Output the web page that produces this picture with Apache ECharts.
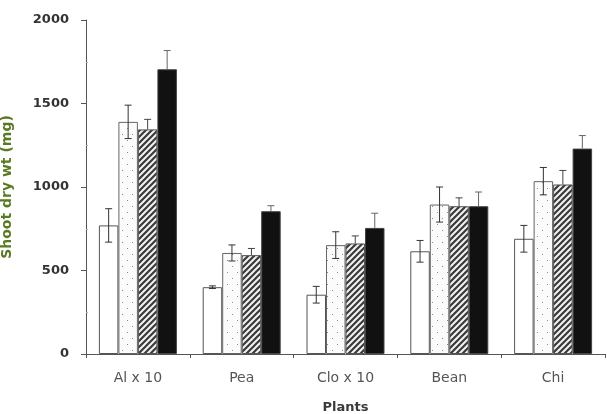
<!DOCTYPE html>
<html><head><meta charset="utf-8">
<script src="https://cdn.jsdelivr.net/npm/echarts@6/dist/echarts.min.js"></script>
<style>html,body{margin:0;padding:0;background:#fff}#c{width:607px;height:414px}</style>
</head><body><div id="c"></div>
<script>
var categories = ['Al x 10', 'Pea', 'Clo x 10', 'Bean', 'Chi'];
var whiteVals  = [770, 400, 355, 615, 690];
var whiteErr   = [100, 8, 50, 65, 80];
var dotVals    = [1390, 605, 652, 895, 1035];
var dotErr     = [100, 48, 80, 105, 82];
var hatchVals  = [1345, 592, 662, 885, 1015];
var hatchErr   = [60, 40, 45, 50, 84];
var blackVals  = [1705, 855, 755, 885, 1230];
var blackErr   = [112, 33, 88, 85, 78];
var yTicks = [0, 500, 1000, 1500, 2000];

function dotPattern(){
  var c = document.createElement('canvas'); c.width = 10; c.height = 12;
  var g = c.getContext('2d');
  g.fillStyle = '#fbfbfb'; g.fillRect(0,0,10,12);
  g.fillStyle = '#8a8a8a';
  g.fillRect(2,2,1,1); g.fillRect(7,8,1,1);
  return c;
}
function hatchPattern(){
  var c = document.createElement('canvas'); c.width = 6; c.height = 6;
  var g = c.getContext('2d');
  g.fillStyle = '#f2f2f2'; g.fillRect(0,0,6,6);
  g.strokeStyle = '#3a3a3a'; g.lineWidth = 2.2;
  g.beginPath();
  g.moveTo(-3,9); g.lineTo(9,-3);
  g.moveTo(-6,6); g.lineTo(6,-6);
  g.moveTo(0,12); g.lineTo(12,0);
  g.stroke();
  return c;
}

var chart = echarts.init(document.getElementById('c'));
var barW = 19.5;
function errSeries(idx, vals, errs, showLow, color){
  return {
    type: 'custom', z: 10,
    renderItem: function(params, api){
      var i = params.dataIndex;
      var groupW = barW*4;
      var cx = api.coord([i, 0])[0];
      var x = cx - groupW/2 + barW*(idx+0.5);
      var yTop = api.coord([i, vals[i]+errs[i]])[1];
      var yMid = api.coord([i, vals[i]])[1];
      var yLow = api.coord([i, vals[i]-errs[i]])[1];
      var y1 = showLow ? yLow : yMid;
      var cap = 3.5;
      return {type:'group', children:[
        {type:'line', shape:{x1:x,y1:yTop,x2:x,y2:y1}, style:{stroke:color,lineWidth:1}},
        {type:'line', shape:{x1:x-cap,y1:yTop,x2:x+cap,y2:yTop}, style:{stroke:color,lineWidth:1}},
        showLow ? {type:'line', shape:{x1:x-cap,y1:yLow,x2:x+cap,y2:yLow}, style:{stroke:color,lineWidth:1}} : {type:'group'}
      ]};
    },
    data: vals.map(function(v,i){return [i, v];}),
    encode: {x:0, y:1}
  };
}

var barBase = {type:'bar', barWidth: barW, barGap: '0%'};
chart.setOption({
  animation: false,
  backgroundColor: '#fff',
  grid: {left: 86, right: 2, top: 20, bottom: 60, outerBoundsMode: 'none', containLabel: false},
  xAxis: {
    type: 'category', data: categories,
    name: 'Plants', nameLocation: 'middle', nameGap: 47,
    nameTextStyle: {fontFamily: 'DejaVu Sans', fontWeight: 'bold', fontSize: 13, color: '#3a3a3a'},
    axisLine: {lineStyle: {color: '#555', width: 1}},
    axisTick: {show: true, length: 4, lineStyle: {color: '#555'}},
    axisLabel: {fontFamily: 'DejaVu Sans', fontSize: 14, color: '#555', margin: 17}
  },
  yAxis: {
    type: 'value', min: 0, max: 2000, interval: 500,
    name: 'Shoot dry wt (mg)', nameLocation: 'middle', nameGap: 72, nameRotate: 90,
    nameTextStyle: {fontFamily: 'DejaVu Sans', fontWeight: 'bold', fontSize: 14, color: '#5a7a22'},
    axisLine: {show: true, lineStyle: {color: '#555', width: 1}},
    axisTick: {show: true, length: 5, lineStyle: {color: '#555'}},
    minorTick: {show: true, splitNumber: 2, length: -2, lineStyle: {color: '#aaa'}},
    splitLine: {show: false},
    axisLabel: {fontFamily: 'DejaVu Sans', fontWeight: 'bold', fontSize: 13, color: '#333', margin: 17,
      formatter: function(v){ return yTicks.indexOf(v) >= 0 ? String(v) : ''; }}
  },
  series: [
    Object.assign({}, barBase, {name:'w', data: whiteVals, itemStyle:{color:'#ffffff', borderColor:'#555', borderWidth:1}}),
    Object.assign({}, barBase, {name:'d', data: dotVals, itemStyle:{color:{image: dotPattern(), repeat:'repeat'}, borderColor:'#666', borderWidth:1}}),
    Object.assign({}, barBase, {name:'h', data: hatchVals, itemStyle:{color:{image: hatchPattern(), repeat:'repeat'}, borderColor:'#555', borderWidth:1}}),
    Object.assign({}, barBase, {name:'b', data: blackVals, itemStyle:{color:'#111111', borderColor:'#444', borderWidth:1}}),
    errSeries(0, whiteVals, whiteErr, true, '#333'),
    errSeries(1, dotVals, dotErr, true, '#333'),
    errSeries(2, hatchVals, hatchErr, false, '#444'),
    errSeries(3, blackVals, blackErr, false, '#666')
  ]
});
</script></body></html>
